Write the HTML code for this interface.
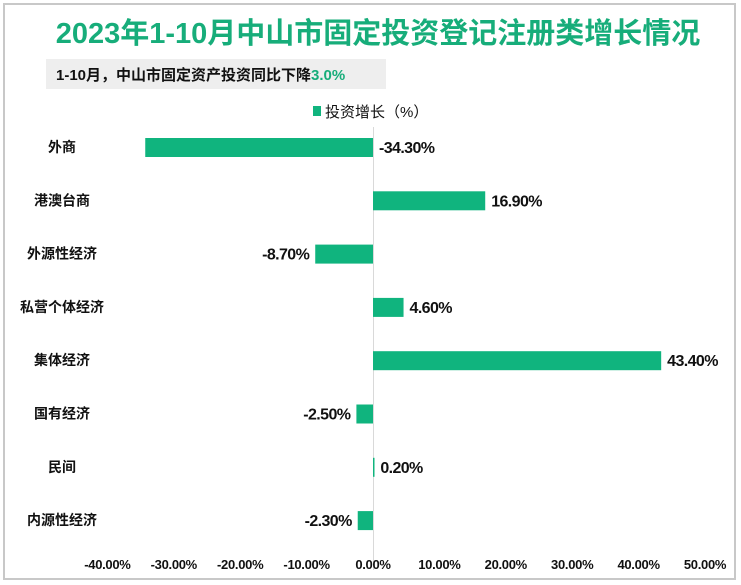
<!DOCTYPE html>
<html><head><meta charset="utf-8"><style>
body{margin:0;background:#fff;font-family:"Liberation Sans","Noto Sans CJK SC",sans-serif;}
#frame{position:absolute;left:3px;top:3px;width:733px;height:577px;border:2px solid #c8c8c8;box-sizing:border-box;}
</style></head><body>
<div id="frame"></div>
<svg width="741" height="585" style="position:absolute;left:0;top:0">
<text x="378" y="43" text-anchor="middle" font-size="29" font-weight="bold" fill="#17ad7a" font-family="Liberation Sans,Noto Sans CJK SC,sans-serif">2023年1-10月中山市固定投资登记注册类增长情况</text>
<rect x="46" y="59" width="340" height="30" fill="#eeeeee"/>
<text x="56" y="80" font-size="15" font-weight="bold" fill="#111" font-family="Liberation Sans,Noto Sans CJK SC,sans-serif">1-10月，中山市固定资产投资同比下降<tspan fill="#17ad7a">3.0%</tspan></text>
<rect x="313" y="106" width="8" height="10" fill="#10b47e"/>
<text x="325" y="117" font-size="15" fill="#111" font-family="Liberation Sans,Noto Sans CJK SC,sans-serif">投资增长（%）</text>
<line x1="373.5" y1="127" x2="373.5" y2="570" stroke="#d9d9d9"/>
<g id="g"></g>
</svg>
<script>
const categories=["外商","港澳台商","外源性经济","私营个体经济","集体经济","国有经济","民间","内源性经济"];
const values=[-34.3,16.9,-8.7,4.6,43.4,-2.5,0.2,-2.3];
const ticks=[-40,-30,-20,-10,0,10,20,30,40,50];
const ns="http://www.w3.org/2000/svg";
const g=document.getElementById('g');
const x=v=>373+v*6.64;
const y=i=>147+i*53.3;
function mk(t,a){const e=document.createElementNS(ns,t);for(const k in a)e.setAttribute(k,a[k]);g.appendChild(e);return e;}
const F="Liberation Sans,Noto Sans CJK SC,sans-serif";
categories.forEach((c,i)=>{
  const v=values[i];
  const b=mk('rect',{x:Math.min(x(0),x(v)),y:y(i)-9,width:Math.max(Math.abs(x(v)-x(0)),1.5),height:19,fill:'#10b47e'});
  
  
  const l=mk('text',{x:62,y:y(i)+5,'text-anchor':'middle','font-size':14,'font-weight':'bold',fill:'#111','font-family':F});
  l.textContent=c;
  
  
  let lx,anc;
  if(v>=0||v<-30){lx=Math.max(x(v),x(0))+6;anc='start';}else{lx=x(v)-6;anc='end';}
  const t=mk('text',{x:lx,y:y(i)+6,'text-anchor':anc,'font-size':16,'font-weight':'bold',fill:'#111','font-family':F,'letter-spacing':'-0.6'});
  t.textContent=v.toFixed(2)+'%';
  
  
});
ticks.forEach(v=>{
  const t=mk('text',{x:x(v),y:569,'text-anchor':'middle','font-size':13,'font-weight':'bold',fill:'#111','font-family':F,'letter-spacing':'-0.3'});
  t.textContent=v.toFixed(2)+'%';
  
  
});
</script>
</body></html>
